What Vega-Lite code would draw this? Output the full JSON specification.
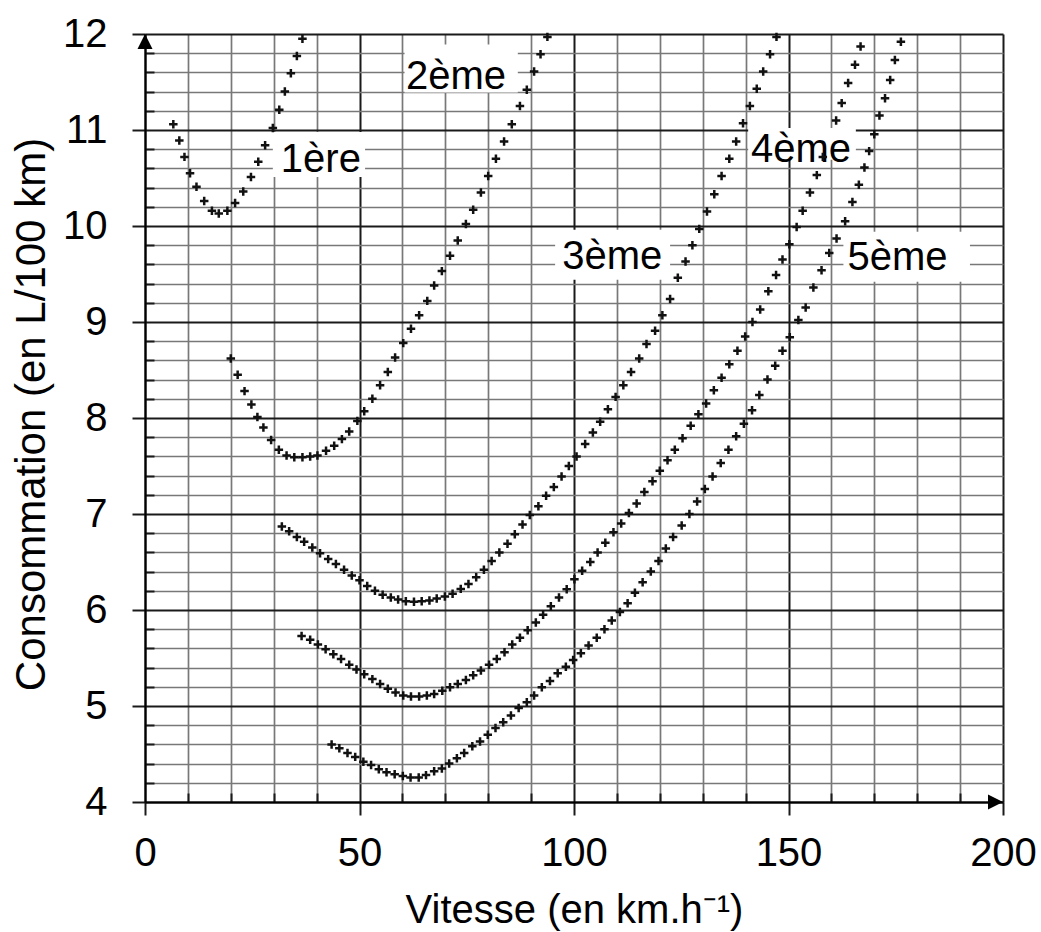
{
"$schema": "https://vega.github.io/schema/vega-lite/v6.json",
"width": 858, "height": 768,
"autosize": {"type": "none"},
"padding": {"left": 145, "top": 34, "right": 38, "bottom": 130},
"background": "white",
"config": {"view": {"stroke": null}, "font": "Liberation Sans", "axis": {"labelFont": "Liberation Sans", "titleFont": "Liberation Sans"}},
"datasets": {
"labels": [
{"label": "1ère", "tv": 41.0, "tc": 10.56, "v1": 29.8, "v2": 51.3, "c1": 10.51, "c2": 10.98},
{"label": "2ème", "tv": 72.5, "tc": 11.43, "v1": 60.5, "v2": 86.9, "c1": 11.39, "c2": 11.89},
{"label": "3ème", "tv": 108.9, "tc": 9.55, "v1": 95.6, "v2": 122.4, "c1": 9.44, "c2": 9.96},
{"label": "4ème", "tv": 152.9, "tc": 10.67, "v1": 140.6, "v2": 165.7, "c1": 10.69, "c2": 11.02},
{"label": "5ème", "tv": 175.4, "tc": 9.54, "v1": 162.8, "v2": 192.3, "c1": 9.42, "c2": 9.94}
],
"points": [
{"rapport":"1ère","v":6.6,"c":11.06},{"rapport":"1ère","v":8.0,"c":10.89},{"rapport":"1ère","v":9.2,"c":10.72},{"rapport":"1ère","v":10.5,"c":10.55},{"rapport":"1ère","v":12.0,"c":10.41},{"rapport":"1ère","v":13.8,"c":10.26},{"rapport":"1ère","v":15.6,"c":10.16},{"rapport":"1ère","v":17.2,"c":10.13},{"rapport":"1ère","v":19.2,"c":10.16},{"rapport":"1ère","v":21.0,"c":10.24},{"rapport":"1ère","v":22.9,"c":10.36},{"rapport":"1ère","v":24.7,"c":10.51},{"rapport":"1ère","v":26.4,"c":10.67},{"rapport":"1ère","v":28.0,"c":10.84},{"rapport":"1ère","v":29.8,"c":11.02},{"rapport":"1ère","v":31.3,"c":11.21},{"rapport":"1ère","v":32.6,"c":11.40},{"rapport":"1ère","v":34.0,"c":11.59},{"rapport":"1ère","v":35.4,"c":11.77},{"rapport":"1ère","v":36.7,"c":11.95},
{"rapport":"2ème","v":20.0,"c":8.62},{"rapport":"2ème","v":21.6,"c":8.45},{"rapport":"2ème","v":23.2,"c":8.28},{"rapport":"2ème","v":24.8,"c":8.14},{"rapport":"2ème","v":26.2,"c":8.01},{"rapport":"2ème","v":27.6,"c":7.90},{"rapport":"2ème","v":29.4,"c":7.77},{"rapport":"2ème","v":31.2,"c":7.67},{"rapport":"2ème","v":33.0,"c":7.61},{"rapport":"2ème","v":34.8,"c":7.59},{"rapport":"2ème","v":36.7,"c":7.59},{"rapport":"2ème","v":38.5,"c":7.60},{"rapport":"2ème","v":40.2,"c":7.61},{"rapport":"2ème","v":42.2,"c":7.66},{"rapport":"2ème","v":44.1,"c":7.71},{"rapport":"2ème","v":45.9,"c":7.78},{"rapport":"2ème","v":47.6,"c":7.86},{"rapport":"2ème","v":49.5,"c":7.97},{"rapport":"2ème","v":51.1,"c":8.07},{"rapport":"2ème","v":53.0,"c":8.20},{"rapport":"2ème","v":54.8,"c":8.34},{"rapport":"2ème","v":56.6,"c":8.48},{"rapport":"2ème","v":58.3,"c":8.63},{"rapport":"2ème","v":60.2,"c":8.78},{"rapport":"2ème","v":62.0,"c":8.93},{"rapport":"2ème","v":63.9,"c":9.07},{"rapport":"2ème","v":65.8,"c":9.22},{"rapport":"2ème","v":67.4,"c":9.38},{"rapport":"2ème","v":69.2,"c":9.53},{"rapport":"2ème","v":71.1,"c":9.69},{"rapport":"2ème","v":72.9,"c":9.85},{"rapport":"2ème","v":74.8,"c":10.02},{"rapport":"2ème","v":76.5,"c":10.17},{"rapport":"2ème","v":78.3,"c":10.35},{"rapport":"2ème","v":80.0,"c":10.52},{"rapport":"2ème","v":81.8,"c":10.70},{"rapport":"2ème","v":83.7,"c":10.88},{"rapport":"2ème","v":85.5,"c":11.06},{"rapport":"2ème","v":87.4,"c":11.25},{"rapport":"2ème","v":89.0,"c":11.42},{"rapport":"2ème","v":90.7,"c":11.61},{"rapport":"2ème","v":92.2,"c":11.79},{"rapport":"2ème","v":93.8,"c":11.97},
{"rapport":"3ème","v":31.9,"c":6.87},{"rapport":"3ème","v":33.6,"c":6.82},{"rapport":"3ème","v":35.4,"c":6.76},{"rapport":"3ème","v":37.1,"c":6.71},{"rapport":"3ème","v":39.0,"c":6.65},{"rapport":"3ème","v":40.8,"c":6.59},{"rapport":"3ème","v":42.7,"c":6.53},{"rapport":"3ème","v":44.5,"c":6.48},{"rapport":"3ème","v":46.4,"c":6.42},{"rapport":"3ème","v":48.2,"c":6.36},{"rapport":"3ème","v":50.0,"c":6.31},{"rapport":"3ème","v":51.8,"c":6.25},{"rapport":"3ème","v":53.6,"c":6.20},{"rapport":"3ème","v":55.4,"c":6.16},{"rapport":"3ème","v":57.3,"c":6.13},{"rapport":"3ème","v":59.0,"c":6.11},{"rapport":"3ème","v":60.8,"c":6.09},{"rapport":"3ème","v":62.7,"c":6.085},{"rapport":"3ème","v":64.5,"c":6.09},{"rapport":"3ème","v":66.3,"c":6.10},{"rapport":"3ème","v":68.0,"c":6.12},{"rapport":"3ème","v":69.9,"c":6.14},{"rapport":"3ème","v":71.7,"c":6.17},{"rapport":"3ème","v":73.6,"c":6.22},{"rapport":"3ème","v":75.4,"c":6.27},{"rapport":"3ème","v":77.2,"c":6.34},{"rapport":"3ème","v":79.0,"c":6.42},{"rapport":"3ème","v":80.8,"c":6.51},{"rapport":"3ème","v":82.6,"c":6.60},{"rapport":"3ème","v":84.5,"c":6.69},{"rapport":"3ème","v":86.2,"c":6.79},{"rapport":"3ème","v":88.0,"c":6.89},{"rapport":"3ème","v":89.7,"c":6.99},{"rapport":"3ème","v":91.7,"c":7.08},{"rapport":"3ème","v":93.5,"c":7.19},{"rapport":"3ème","v":95.3,"c":7.28},{"rapport":"3ème","v":97.1,"c":7.39},{"rapport":"3ème","v":98.8,"c":7.50},{"rapport":"3ème","v":100.6,"c":7.60},{"rapport":"3ème","v":102.6,"c":7.73},{"rapport":"3ème","v":104.4,"c":7.85},{"rapport":"3ème","v":106.1,"c":7.96},{"rapport":"3ème","v":107.9,"c":8.09},{"rapport":"3ème","v":109.7,"c":8.22},{"rapport":"3ème","v":111.5,"c":8.34},{"rapport":"3ème","v":113.3,"c":8.48},{"rapport":"3ème","v":115.2,"c":8.62},{"rapport":"3ème","v":116.9,"c":8.77},{"rapport":"3ème","v":118.9,"c":8.91},{"rapport":"3ème","v":120.6,"c":9.07},{"rapport":"3ème","v":122.4,"c":9.24},{"rapport":"3ème","v":124.2,"c":9.46},{"rapport":"3ème","v":126.0,"c":9.63},{"rapport":"3ème","v":127.6,"c":9.80},{"rapport":"3ème","v":129.2,"c":9.97},{"rapport":"3ème","v":131.0,"c":10.15},{"rapport":"3ème","v":132.7,"c":10.33},{"rapport":"3ème","v":134.4,"c":10.52},{"rapport":"3ème","v":136.2,"c":10.70},{"rapport":"3ème","v":137.8,"c":10.88},{"rapport":"3ème","v":139.4,"c":11.07},{"rapport":"3ème","v":141.0,"c":11.25},{"rapport":"3ème","v":142.6,"c":11.43},{"rapport":"3ème","v":144.1,"c":11.61},{"rapport":"3ème","v":145.7,"c":11.79},{"rapport":"3ème","v":147.2,"c":11.97},
{"rapport":"4ème","v":36.5,"c":5.73},{"rapport":"4ème","v":38.5,"c":5.69},{"rapport":"4ème","v":40.3,"c":5.64},{"rapport":"4ème","v":42.1,"c":5.59},{"rapport":"4ème","v":43.9,"c":5.54},{"rapport":"4ème","v":45.7,"c":5.49},{"rapport":"4ème","v":47.6,"c":5.43},{"rapport":"4ème","v":49.3,"c":5.38},{"rapport":"4ème","v":51.1,"c":5.33},{"rapport":"4ème","v":53.0,"c":5.28},{"rapport":"4ème","v":54.8,"c":5.23},{"rapport":"4ème","v":56.6,"c":5.18},{"rapport":"4ème","v":58.4,"c":5.14},{"rapport":"4ème","v":60.2,"c":5.11},{"rapport":"4ème","v":62.0,"c":5.10},{"rapport":"4ème","v":63.9,"c":5.10},{"rapport":"4ème","v":65.7,"c":5.11},{"rapport":"4ème","v":67.4,"c":5.125},{"rapport":"4ème","v":69.3,"c":5.16},{"rapport":"4ème","v":71.1,"c":5.195},{"rapport":"4ème","v":72.9,"c":5.23},{"rapport":"4ème","v":74.8,"c":5.27},{"rapport":"4ème","v":76.5,"c":5.32},{"rapport":"4ème","v":78.3,"c":5.37},{"rapport":"4ème","v":80.2,"c":5.43},{"rapport":"4ème","v":82.0,"c":5.49},{"rapport":"4ème","v":83.8,"c":5.56},{"rapport":"4ème","v":85.6,"c":5.64},{"rapport":"4ème","v":87.4,"c":5.71},{"rapport":"4ème","v":89.2,"c":5.79},{"rapport":"4ème","v":91.1,"c":5.87},{"rapport":"4ème","v":92.8,"c":5.95},{"rapport":"4ème","v":94.6,"c":6.04},{"rapport":"4ème","v":96.5,"c":6.13},{"rapport":"4ème","v":98.3,"c":6.215},{"rapport":"4ème","v":100.1,"c":6.32},{"rapport":"4ème","v":101.9,"c":6.41},{"rapport":"4ème","v":103.8,"c":6.50},{"rapport":"4ème","v":105.5,"c":6.60},{"rapport":"4ème","v":107.3,"c":6.70},{"rapport":"4ème","v":109.2,"c":6.81},{"rapport":"4ème","v":111.0,"c":6.90},{"rapport":"4ème","v":112.8,"c":7.01},{"rapport":"4ème","v":114.6,"c":7.11},{"rapport":"4ème","v":116.4,"c":7.23},{"rapport":"4ème","v":118.3,"c":7.34},{"rapport":"4ème","v":120.0,"c":7.45},{"rapport":"4ème","v":121.8,"c":7.56},{"rapport":"4ème","v":123.5,"c":7.67},{"rapport":"4ème","v":125.3,"c":7.79},{"rapport":"4ème","v":127.2,"c":7.92},{"rapport":"4ème","v":129.0,"c":8.04},{"rapport":"4ème","v":130.8,"c":8.15},{"rapport":"4ème","v":132.6,"c":8.29},{"rapport":"4ème","v":134.4,"c":8.42},{"rapport":"4ème","v":136.2,"c":8.56},{"rapport":"4ème","v":138.1,"c":8.70},{"rapport":"4ème","v":139.9,"c":8.85},{"rapport":"4ème","v":141.6,"c":9.00},{"rapport":"4ème","v":143.4,"c":9.13},{"rapport":"4ème","v":145.3,"c":9.32},{"rapport":"4ème","v":147.1,"c":9.49},{"rapport":"4ème","v":148.6,"c":9.65},{"rapport":"4ème","v":150.2,"c":9.81},{"rapport":"4ème","v":151.9,"c":9.99},{"rapport":"4ème","v":153.3,"c":10.16},{"rapport":"4ème","v":155.0,"c":10.35},{"rapport":"4ème","v":156.6,"c":10.53},{"rapport":"4ème","v":158.0,"c":10.72},{"rapport":"4ème","v":161.1,"c":11.10},{"rapport":"4ème","v":162.4,"c":11.28},{"rapport":"4ème","v":163.9,"c":11.49},{"rapport":"4ème","v":165.5,"c":11.68},{"rapport":"4ème","v":166.8,"c":11.87},
{"rapport":"5ème","v":43.5,"c":4.60},{"rapport":"5ème","v":45.3,"c":4.56},{"rapport":"5ème","v":47.2,"c":4.51},{"rapport":"5ème","v":49.0,"c":4.47},{"rapport":"5ème","v":50.9,"c":4.42},{"rapport":"5ème","v":52.7,"c":4.385},{"rapport":"5ème","v":54.5,"c":4.34},{"rapport":"5ème","v":56.3,"c":4.31},{"rapport":"5ème","v":58.2,"c":4.29},{"rapport":"5ème","v":60.1,"c":4.27},{"rapport":"5ème","v":61.9,"c":4.255},{"rapport":"5ème","v":63.8,"c":4.255},{"rapport":"5ème","v":65.5,"c":4.28},{"rapport":"5ème","v":67.4,"c":4.32},{"rapport":"5ème","v":69.2,"c":4.35},{"rapport":"5ème","v":70.9,"c":4.40},{"rapport":"5ème","v":72.7,"c":4.455},{"rapport":"5ème","v":74.4,"c":4.51},{"rapport":"5ème","v":76.3,"c":4.58},{"rapport":"5ème","v":78.1,"c":4.63},{"rapport":"5ème","v":79.9,"c":4.70},{"rapport":"5ème","v":81.7,"c":4.77},{"rapport":"5ème","v":83.5,"c":4.83},{"rapport":"5ème","v":85.3,"c":4.90},{"rapport":"5ème","v":87.1,"c":4.98},{"rapport":"5ème","v":89.0,"c":5.04},{"rapport":"5ème","v":90.7,"c":5.11},{"rapport":"5ème","v":92.5,"c":5.195},{"rapport":"5ème","v":94.4,"c":5.26},{"rapport":"5ème","v":96.2,"c":5.34},{"rapport":"5ème","v":98.1,"c":5.41},{"rapport":"5ème","v":99.8,"c":5.48},{"rapport":"5ème","v":101.6,"c":5.55},{"rapport":"5ème","v":103.4,"c":5.63},{"rapport":"5ème","v":105.3,"c":5.71},{"rapport":"5ème","v":107.1,"c":5.80},{"rapport":"5ème","v":108.8,"c":5.89},{"rapport":"5ème","v":110.7,"c":5.98},{"rapport":"5ème","v":112.5,"c":6.07},{"rapport":"5ème","v":114.2,"c":6.18},{"rapport":"5ème","v":116.0,"c":6.29},{"rapport":"5ème","v":117.9,"c":6.40},{"rapport":"5ème","v":119.7,"c":6.51},{"rapport":"5ème","v":121.4,"c":6.64},{"rapport":"5ème","v":123.1,"c":6.76},{"rapport":"5ème","v":125.1,"c":6.88},{"rapport":"5ème","v":126.9,"c":7.00},{"rapport":"5ème","v":128.7,"c":7.13},{"rapport":"5ème","v":130.5,"c":7.26},{"rapport":"5ème","v":132.3,"c":7.39},{"rapport":"5ème","v":134.2,"c":7.53},{"rapport":"5ème","v":136.0,"c":7.67},{"rapport":"5ème","v":137.8,"c":7.81},{"rapport":"5ème","v":139.6,"c":7.94},{"rapport":"5ème","v":141.5,"c":8.08},{"rapport":"5ème","v":143.2,"c":8.24},{"rapport":"5ème","v":145.1,"c":8.40},{"rapport":"5ème","v":146.9,"c":8.545},{"rapport":"5ème","v":148.6,"c":8.70},{"rapport":"5ème","v":150.3,"c":8.84},{"rapport":"5ème","v":152.3,"c":9.02},{"rapport":"5ème","v":154.0,"c":9.15},{"rapport":"5ème","v":155.8,"c":9.36},{"rapport":"5ème","v":157.7,"c":9.54},{"rapport":"5ème","v":159.5,"c":9.72},{"rapport":"5ème","v":161.2,"c":9.87},{"rapport":"5ème","v":163.2,"c":10.05},{"rapport":"5ème","v":164.9,"c":10.25},{"rapport":"5ème","v":166.4,"c":10.43},{"rapport":"5ème","v":167.7,"c":10.61},{"rapport":"5ème","v":168.8,"c":10.78},{"rapport":"5ème","v":170.0,"c":10.955},{"rapport":"5ème","v":171.2,"c":11.15},{"rapport":"5ème","v":172.5,"c":11.33},{"rapport":"5ème","v":173.7,"c":11.52},{"rapport":"5ème","v":174.8,"c":11.73},{"rapport":"5ème","v":176.2,"c":11.92}
]
},
"layer": [
{
"data": {"name": "labels"},
"mark": {"type": "rect", "fill": "white", "stroke": null},
"encoding": {
"x": {"field": "v1", "type": "quantitative", "scale": {"domain": [0, 200], "nice": false, "zero": false},
 "axis": {
  "values": [0,10,20,30,40,50,60,70,80,90,100,110,120,130,140,150,160,170,180,190,200],
  "tickCount": 100,
  "title": "Vitesse (en km.h⁻¹)", "titleFontSize": 40, "titleFontWeight": "normal", "titleColor": "black",
  "titleBaseline": "alphabetic", "titleY": 120,
  "labelFontSize": 40, "labelColor": "black", "labelPadding": 18, "labelFlush": false, "labelOverlap": false,
  "labelExpr": "datum.value % 50 === 0 ? format(datum.value, 'd') : ''",
  "grid": true,
  "gridColor": {"condition": {"test": "datum.value % 50 === 0", "value": "#1a1a1a"}, "value": "#787878"},
  "gridWidth": {"condition": {"test": "datum.value % 50 === 0", "value": 2}, "value": 1.7},
  "tickColor": "#1a1a1a", "tickWidth": 2,
  "tickSize": {"condition": {"test": "datum.value % 50 === 0", "value": 13}, "value": -9},
  "domainColor": "black", "domainWidth": 2
 }},
"x2": {"field": "v2"},
"y": {"field": "c1", "type": "quantitative", "scale": {"domain": [4, 12], "nice": false, "zero": false},
 "axis": {
  "values": [4,4.2,4.4,4.6,4.8,5,5.2,5.4,5.6,5.8,6,6.2,6.4,6.6,6.8,7,7.2,7.4,7.6,7.8,8,8.2,8.4,8.6,8.8,9,9.2,9.4,9.6,9.8,10,10.2,10.4,10.6,10.8,11,11.2,11.4,11.6,11.8,12],
  "tickCount": 100,
  "title": "Consommation (en L/100 km)", "titleFontSize": 42, "titleFontWeight": "normal", "titleColor": "black",
  "titleBaseline": "alphabetic", "titleAngle": -90, "titleX": -101, "titleY": 380,
  "labelFontSize": 40, "labelColor": "black", "labelPadding": 25, "labelFlush": false, "labelOverlap": false,
  "labelExpr": "abs(datum.value - round(datum.value)) < 0.01 ? format(datum.value, 'd') : ''",
  "grid": true,
  "gridColor": {"condition": {"test": "abs(datum.value - round(datum.value)) < 0.01", "value": "#1a1a1a"}, "value": "#787878"},
  "gridWidth": {"condition": {"test": "abs(datum.value - round(datum.value)) < 0.01", "value": 2}, "value": 1.7},
  "tickColor": "#1a1a1a", "tickWidth": 2,
  "tickSize": {"condition": {"test": "abs(datum.value - round(datum.value)) < 0.01", "value": 13}, "value": -9},
  "domainColor": "black", "domainWidth": 2
 }},
"y2": {"field": "c2"}
}
},
{
"data": {"name": "labels"},
"mark": {"type": "text", "font": "Liberation Sans", "fontSize": 40, "align": "center", "baseline": "alphabetic", "color": "black"},
"encoding": {
"x": {"field": "tv", "type": "quantitative"},
"y": {"field": "tc", "type": "quantitative"},
"text": {"field": "label"}
}
},
{
"data": {"name": "points"},
"mark": {"type": "point", "shape": "M-1,0L1,0M0,-1L0,1", "filled": false, "stroke": "#111111", "strokeWidth": 2.5, "size": 72, "opacity": 1},
"encoding": {
"x": {"field": "v", "type": "quantitative"},
"y": {"field": "c", "type": "quantitative"},
"detail": {"field": "rapport"}
}
},
{
"data": {"values": [{}]},
"mark": {"type": "point", "shape": "M0,0L-0.5,1L0.5,1Z", "filled": true, "fill": "black", "strokeWidth": 0, "size": 900, "opacity": 1},
"encoding": {"x": {"datum": 0, "type": "quantitative"}, "y": {"datum": 12, "type": "quantitative"}}
},
{
"data": {"values": [{}]},
"mark": {"type": "point", "shape": "M0,0L-1,-0.5L-1,0.5Z", "filled": true, "fill": "black", "strokeWidth": 0, "size": 900, "opacity": 1},
"encoding": {"x": {"datum": 200, "type": "quantitative"}, "y": {"datum": 4, "type": "quantitative"}}
}
]
}
